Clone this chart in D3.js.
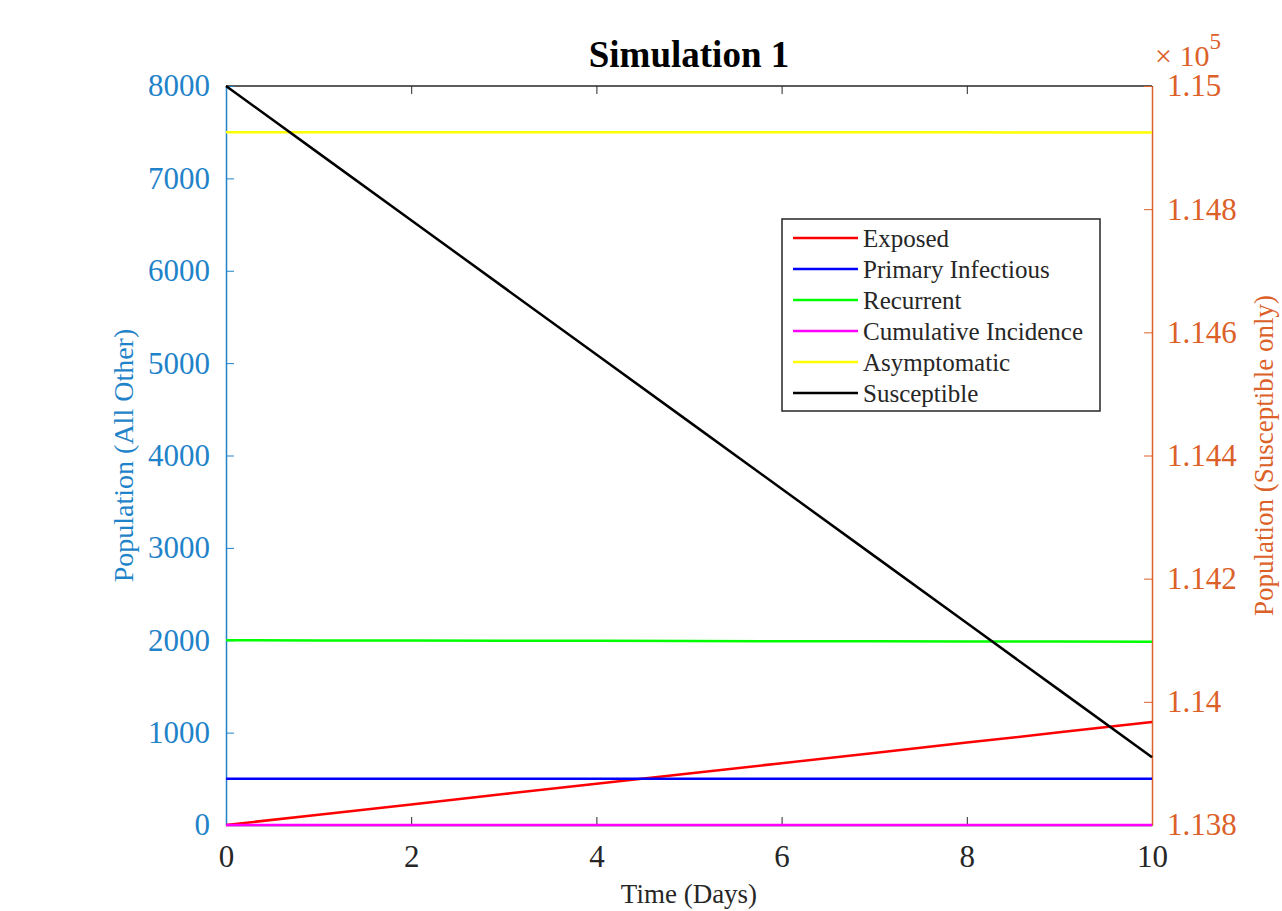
<!DOCTYPE html>
<html>
<head>
<meta charset="utf-8">
<script src="https://cdn.jsdelivr.net/npm/d3@7"></script>
<style>
  body { margin: 0; background: #fff; }
  svg, svg text { font-family: "Liberation Serif", "DejaVu Serif", serif; }
</style>
</head>
<body>
<svg width="1282" height="911"></svg>
<script>
// данные
const days = [0, 1, 2, 3, 4, 5, 6, 7, 8, 9, 10];
const exposed = [0, 112, 223, 335, 446, 558, 669, 780, 892, 1003, 1115];
const primary = [500, 500, 500, 500, 500, 500, 500, 500, 500, 500, 500];
const recurrent = [2000, 1998, 1997, 1995, 1994, 1992, 1990, 1989, 1987, 1986, 1984];
const cumulative = [0, 0, 0, 0, 0, 0, 0, 0, 0, 0, 0];
const asymptomatic = [7500, 7500, 7500, 7499, 7499, 7499, 7498, 7498, 7498, 7497, 7497];
const susceptible = [115000, 114891, 114782, 114673, 114564, 114455, 114346, 114237, 114128, 114019, 113910];

const xTicks = [0, 2, 4, 6, 8, 10];
const leftTicks = [0, 1000, 2000, 3000, 4000, 5000, 6000, 7000, 8000];
const rightTicks = [113800, 114000, 114200, 114400, 114600, 114800, 115000];

const seriesNames = ["Exposed", "Primary Infectious", "Recurrent", "Cumulative Incidence", "Asymptomatic", "Susceptible"];
const seriesColors = ["#ff0000", "#0000ff", "#00ff00", "#ff00ff", "#ffff00", "#000000"];

const leftColor = "#1f83c9";
const rightColor = "#dc6129";
const serif = '"Liberation Serif", "DejaVu Serif", serif';

const svg = d3.select("svg");
const area = { left: 226, right: 1152, top: 86, bottom: 825 };

const scX = d3.scaleLinear().domain([0, 10]).range([area.left, area.right]);
const scL = d3.scaleLinear().domain([0, 8000]).range([area.bottom, area.top]);
const scR = d3.scaleLinear().domain([113800, 115000]).range([area.bottom, area.top]);

// верхняя рамка
svg.append("line")
    .attr("x1", area.left).attr("x2", area.right)
    .attr("y1", area.top).attr("y2", area.top)
    .style("stroke", "#262626").style("stroke-width", 1.5);

// ось X снизу
const gx = svg.append("g")
    .attr("transform", `translate(0, ${area.bottom})`)
    .call(d3.axisBottom(scX).tickValues(xTicks).tickSizeInner(-8).tickSizeOuter(0).tickPadding(20));
gx.attr("font-family", serif);
gx.select(".domain").style("stroke", "#262626").style("stroke-width", 1.5);
gx.selectAll(".tick line").style("stroke", "#262626");
gx.selectAll("text").style("font-size", "31px").style("fill", "#262626");

// тики сверху
const gxTop = svg.append("g")
    .attr("transform", `translate(0, ${area.top})`)
    .call(d3.axisTop(scX).tickValues(xTicks).tickSizeInner(-8).tickSizeOuter(0).tickFormat(""));
gxTop.select(".domain").remove();
gxTop.selectAll(".tick line").style("stroke", "#262626");

// левая ось
const gl = svg.append("g")
    .attr("transform", `translate(${area.left}, 0)`)
    .call(d3.axisLeft(scL).tickValues(leftTicks).tickSizeInner(-8).tickSizeOuter(0).tickPadding(16).tickFormat(d3.format("d")));
gl.attr("font-family", serif);
gl.select(".domain").style("stroke", leftColor).style("stroke-width", 1.5);
gl.selectAll(".tick line").style("stroke", leftColor);
gl.selectAll("text").style("font-size", "31px").style("fill", leftColor);

// правая ось
const gr = svg.append("g")
    .attr("transform", `translate(${area.right}, 0)`)
    .call(d3.axisRight(scR).tickValues(rightTicks).tickSizeInner(-8).tickSizeOuter(0).tickPadding(15)
        .tickFormat(d => String(+(d / 1e5).toFixed(3))));
gr.attr("font-family", serif);
gr.select(".domain").style("stroke", rightColor).style("stroke-width", 1.5);
gr.selectAll(".tick line").style("stroke", rightColor);
gr.selectAll("text").style("font-size", "31px").style("fill", rightColor);

// линии
const allSeries = [exposed, primary, recurrent, cumulative, asymptomatic];
const lineL = d3.line().x((d, i) => scX(days[i])).y(d => scL(d));
const lineR = d3.line().x((d, i) => scX(days[i])).y(d => scR(d));

svg.selectAll(".series")
    .data(allSeries)
    .enter()
    .append("path")
    .attr("class", "series")
    .attr("d", d => lineL(d))
    .style("fill", "none")
    .style("stroke", (d, i) => seriesColors[i])
    .style("stroke-width", 2.5);

svg.append("path")
    .attr("d", lineR(susceptible))
    .style("fill", "none")
    .style("stroke", seriesColors[5])
    .style("stroke-width", 2.5);

// подписи
svg.append("text")
    .attr("x", (area.left + area.right) / 2).attr("y", 67)
    .attr("text-anchor", "middle")
    .style("font-size", "37px").style("font-weight", "bold")
    .text("Simulation 1");

svg.append("text")
    .attr("x", (area.left + area.right) / 2).attr("y", 903)
    .attr("text-anchor", "middle")
    .style("font-size", "27px").style("fill", "#262626")
    .text("Time (Days)");

svg.append("text")
    .attr("transform", `translate(133, ${(area.top + area.bottom) / 2}) rotate(-90)`)
    .attr("text-anchor", "middle")
    .style("font-size", "28px").style("fill", leftColor)
    .text("Population (All Other)");

svg.append("text")
    .attr("transform", `translate(1273, ${(area.top + area.bottom) / 2}) rotate(-90)`)
    .attr("text-anchor", "middle")
    .style("font-size", "27px").style("fill", rightColor)
    .text("Population (Susceptible only)");

// множитель ×10^5
const mult = svg.append("text")
    .attr("x", 1155).attr("y", 66)
    .style("font-size", "30px").style("fill", rightColor);
mult.append("tspan").text("× 10");
mult.append("tspan").attr("dy", -17).style("font-size", "23px").text("5");

// легенда
const legend = svg.append("g").attr("transform", "translate(782, 219)");
legend.append("rect")
    .attr("width", 318).attr("height", 192)
    .style("fill", "#fff").style("stroke", "#262626").style("stroke-width", 1.5);

const items = legend.selectAll(".item")
    .data(seriesNames)
    .enter()
    .append("g")
    .attr("class", "item")
    .attr("transform", (d, i) => `translate(0, ${19 + i * 31})`);

items.append("line")
    .attr("x1", 11).attr("x2", 76)
    .style("stroke", (d, i) => seriesColors[i])
    .style("stroke-width", 2.5);

items.append("text")
    .attr("x", 81).attr("dy", "0.35em")
    .style("font-size", "25px").style("fill", "#262626")
    .text(d => d);
</script>
</body>
</html>
